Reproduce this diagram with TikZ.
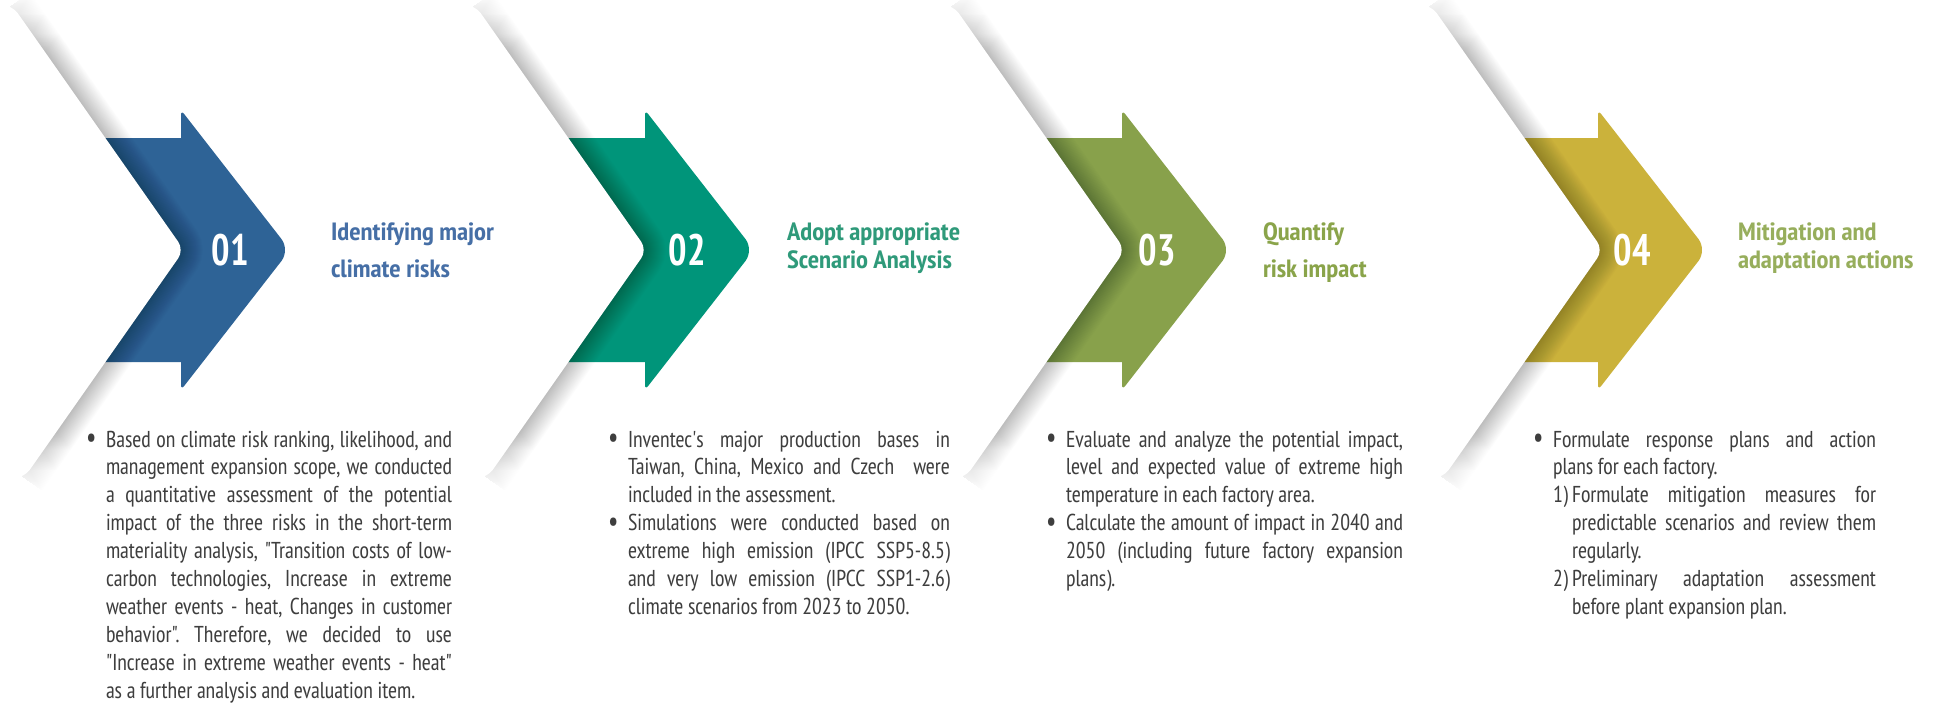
\documentclass[tikz,border=0pt]{standalone}
\usepackage{fontspec}
\usetikzlibrary{fadings}
\newfontfamily\bodyfont{PT Sans Narrow}[FakeStretch=0.95]
\newfontfamily\headfont{PT Sans Narrow}[FakeStretch=1.07]
\newfontfamily\numfont{PT Sans Narrow}[FakeStretch=0.88]
\definecolor{azul}{HTML}{2E6396}
\definecolor{verde}{HTML}{00957A}
\definecolor{oliva}{HTML}{88A14B}
\definecolor{ocre}{HTML}{CBB23B}
\definecolor{tazul}{HTML}{466FA6}
\definecolor{tverde}{HTML}{2F9A7A}
\definecolor{toliva}{HTML}{8AA44A}
\definecolor{tocre}{HTML}{97AE5C}
\definecolor{gristexto}{HTML}{3E3E3E}

\pgfdeclareverticalshading{sombrafade}{100bp}{color(0bp)=(black); color(25bp)=(black); color(31bp)=(white); color(69bp)=(white); color(75bp)=(black); color(100bp)=(black)}
\pgfdeclarefading{puntas}{\pgfuseshading{sombrafade}}

\newcommand{\ajuste}{\tolerance=10000 \hyphenpenalty=10000 \frenchspacing}
\newcommand{\punto}{\ajuste\hangindent=10pt\hangafter=1\noindent\makebox[10pt][l]{\raisebox{-0.4pt}{\fontsize{15}{15}\selectfont\textbullet}}}
\newcommand{\subpunto}[1]{\ajuste\hangindent=19.5pt\hangafter=1\noindent\hspace*{10pt}\makebox[9.5pt][l]{#1}}

\begin{document}
\begin{tikzpicture}
  [x=0.5pt,y=-0.5pt,
   every node/.style={inner sep=0pt,outer sep=0pt},
   numero/.style={text=white,font=\numfont\bfseries\fontsize{22}{22}\selectfont},
   titulo/.style={anchor=base west,align=left,font=\headfont\bfseries\fontsize{12.5}{#1}\selectfont},
   cuerpo/.style={anchor=base west,align=justify,text=gristexto,font=\bodyfont\fontsize{11.5}{13.95}\selectfont}]
  \useasboundingbox (0,0) rectangle (1959,703);
  \fill[white] (0,0) rectangle (1959,703);

  %Flechas
  \foreach \e/\c in {181/azul, 645/verde, 1122/oliva, 1598/ocre}
    \fill[\c] (\e-150,138) -- (\e,138) [rounded corners=2.5pt] -- (\e,110) [rounded corners=7pt] -- (\e+109,250)
      [rounded corners=2.5pt] -- (\e,390) [sharp corners] -- (\e,362) -- (\e-150,362) -- cycle;

  %Sombras y chevrones blancos
  \foreach \m in {184,647,1125,1603}{
    \foreach \w in {2,4,...,44}
      \draw[black,opacity=0.013,line width=\w*0.5pt,rounded corners=5pt,path fading=puntas]
        (\m-172,5) -- (\m,250) -- (\m-160,478) (\m+25,250);
    \fill[white,rounded corners=5pt] (\m-172,5) -- (\m,250) -- (\m-160,478) -- (\m-360,478) -- (\m-200,250) -- (\m-372,5) -- cycle;
  }

  \foreach \x/\n [count=\i] in {230/01, 687/02, 1157/03, 1632/04}
    \node[numero] (num\i) at (\x,250) {\n};

  \node[titulo=18.5,text=tazul] (tit1) at (331,277) {Identifying major\\climate risks};
  \node[titulo=14,text=tverde] (tit2) at (787,268) {Adopt appropriate\\Scenario Analysis};
  \node[titulo=18.5,text=toliva] (tit3) at (1263,277) {Quantify\\risk impact};
  \node[titulo=14,text=tocre] (tit4) at (1738,268) {Mitigation and\\adaptation actions};

  %Textos
  \node[cuerpo,text width=183pt] (txt1) at (86,447) {\punto Based on climate risk ranking, likelihood, and\linebreak
    management expansion scope, we conducted\linebreak
    a quantitative assessment of the potential\linebreak
    impact of the three risks in the short-term\linebreak
    materiality analysis, "Transition costs of low-\linebreak
    carbon technologies, Increase in extreme\linebreak
    weather events - heat, Changes in customer\linebreak
    behavior". Therefore, we decided to use\linebreak
    "Increase in extreme weather events - heat"\linebreak
    as a further analysis and evaluation item.\par};
  \node[cuerpo,text width=171pt] (txt2) at (608,447) {\punto Inventec\textquotesingle s major production bases in\linebreak
    Taiwan, China, Mexico and Czech\ \ were\linebreak
    included in the assessment.\par
    \punto Simulations were conducted based on\linebreak
    extreme high emission (IPCC SSP5-8.5)\linebreak
    and very low emission (IPCC SSP1-2.6)\linebreak
    climate scenarios from 2023 to 2050.\par};
  \node[cuerpo,text width=178.5pt] (txt3) at (1046,447) {\punto Evaluate and analyze the potential impact,\linebreak
    level and expected value of extreme high\linebreak
    temperature in each factory area.\par
    \punto Calculate the amount of impact in 2040 and\linebreak
    2050 (including future factory expansion\linebreak
    plans).\par};
  \node[cuerpo,text width=171.5pt] (txt4) at (1533,447) {\punto Formulate response plans and action\linebreak
    plans for each factory.\par
    \subpunto{1)}Formulate mitigation measures for\linebreak
    predictable scenarios and review them\linebreak
    regularly.\par
    \subpunto{2)}Preliminary adaptation assessment\linebreak
    before plant expansion plan.\par};
\end{tikzpicture}
\end{document}
